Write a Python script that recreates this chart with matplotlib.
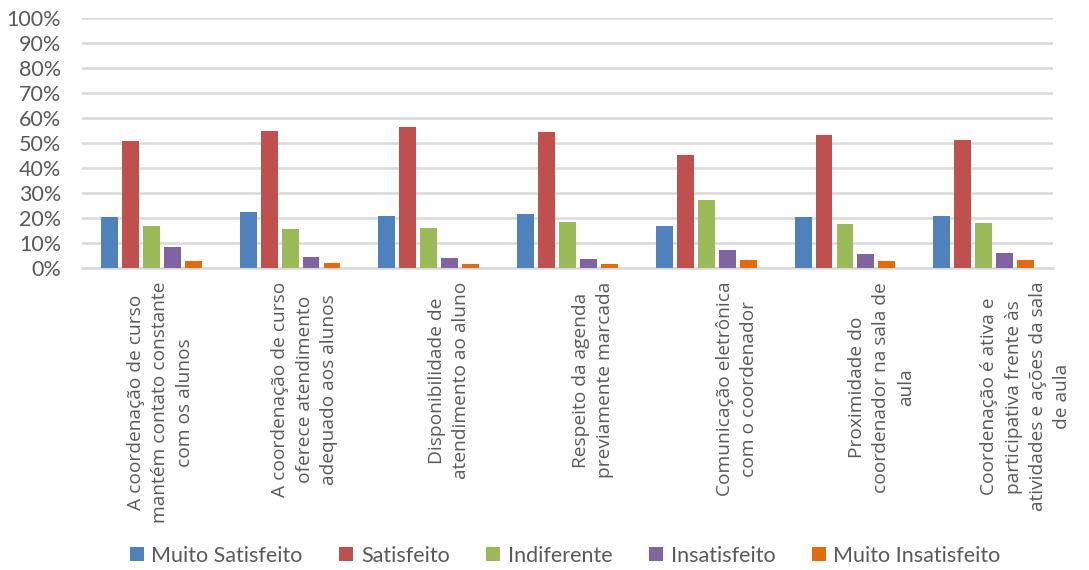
import numpy as np
import matplotlib.pyplot as plt
from matplotlib.ticker import PercentFormatter

categories = [
    "A coordenação de curso\nmantém contato constante\ncom os alunos",
    "A coordenação de curso\noferece atendimento\nadequado aos alunos",
    "Disponibilidade de\natendimento ao aluno",
    "Respeito da agenda\npreviamente marcada",
    "Comunicação eletrônica\ncom o coordenador",
    "Proximidade do\ncoordenador na sala de\naula",
    "Coordenação é ativa e\nparticipativa frente às\natividades e ações da sala\nde aula",
]

series_names = ["Muito Satisfeito", "Satisfeito", "Indiferente", "Insatisfeito", "Muito Insatisfeito"]
muito_satisfeito = [20.3, 22.3, 21.0, 21.6, 16.8, 20.3, 21.0]
satisfeito = [50.8, 54.7, 56.5, 54.3, 45.1, 53.3, 51.3]
indiferente = [17.0, 15.7, 16.0, 18.3, 27.3, 17.6, 18.0]
insatisfeito = [8.3, 4.3, 3.9, 3.7, 7.1, 5.5, 5.9]
muito_insatisfeito = [3.0, 2.1, 1.7, 1.5, 3.1, 2.7, 3.1]

colors = ["#4F81BD", "#C0504D", "#9BBB59", "#8064A2", "#E36C09"]
text_color = "#595959"
grid_color = "#D9D9D9"

series = [muito_satisfeito, satisfeito, indiferente, insatisfeito, muito_insatisfeito]

fig = plt.figure(figsize=(10.89, 5.70), dpi=100)
ax = fig.add_axes([0.0753, 0.5298, 0.8917, 0.4386])

x = np.arange(len(categories))
step = 0.151
width = 0.122
for i, (vals, name, c) in enumerate(zip(series, series_names, colors)):
    offset = (i - 2) * step
    ax.bar(x + offset, vals, width=width, color=c, label=name, zorder=3)

ax.set_xlim(-0.5, len(categories) - 0.5)
ax.set_ylim(0, 100)
ax.set_yticks(np.arange(0, 101, 10))
ax.yaxis.set_major_formatter(PercentFormatter(decimals=0))
ax.grid(axis="y", color=grid_color, linewidth=1.8, zorder=0)
for side in ["top", "right", "left"]:
    ax.spines[side].set_visible(False)
ax.spines["bottom"].set_color(grid_color)
ax.spines["bottom"].set_linewidth(1.8)
ax.tick_params(axis="both", length=0)
ax.tick_params(axis="y", labelsize=15.5, labelcolor=text_color, pad=15)
for lbl in ax.get_yticklabels():
    lbl.set_family("Lato")

ax.set_xticks(x)
ax.set_xticklabels([])
# category labels drift slightly right of the group centres, as in the original
for xi, cat in zip(x, categories):
    shift_pt = (9 + 5.5 * xi) * 0.72
    ax.annotate(cat, xy=(xi, 0), xycoords=("data", "axes fraction"),
                xytext=(shift_pt, -10), textcoords="offset points",
                rotation=90, ha="center", va="top", multialignment="center",
                fontsize=13.8, color=text_color, linespacing=1.45,
                family="Open Sans")

leg = fig.legend(loc="center", bbox_to_anchor=(0.519, 0.025), ncol=5,
                 frameon=False, handlelength=0.65, handleheight=0.65,
                 handletextpad=0.35, columnspacing=1.7,
                 prop={"family": "Lato", "size": 15.5})
for t in leg.get_texts():
    t.set_color(text_color)

fig.savefig("out.png", dpi=100)
